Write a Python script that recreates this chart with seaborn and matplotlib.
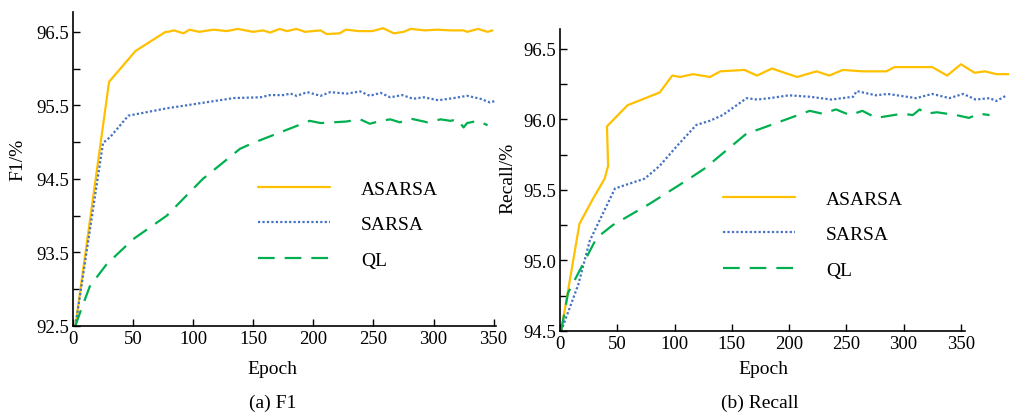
import numpy as np
import pandas as pd
import matplotlib
matplotlib.use("Agg")
import matplotlib.pyplot as plt
import seaborn as sns
from matplotlib.ticker import MultipleLocator, FormatStrFormatter

# ---------------- data: (a) F1 ----------------
f1_asarsa_ep = [2, 30, 52, 77, 79, 84, 92, 97, 105, 117, 128, 137, 150, 158, 164, 172, 178, 186, 193,
                206, 211, 222, 227, 238, 249, 258, 267, 275, 281, 293, 303, 314, 325, 328, 337, 345, 349]
f1_asarsa = [92.5, 95.82, 96.24, 96.50, 96.50, 96.52, 96.48, 96.53, 96.50, 96.53, 96.51, 96.54, 96.50,
             96.52, 96.49, 96.54, 96.51, 96.54, 96.50, 96.52, 96.47, 96.48, 96.53, 96.51, 96.51, 96.55,
             96.48, 96.50, 96.54, 96.52, 96.53, 96.52, 96.52, 96.50, 96.54, 96.50, 96.52]

f1_sarsa_ep = [2, 25, 31, 46, 78, 106, 134, 156, 164, 175, 181, 186, 195, 206, 214, 228, 239, 247,
               256, 264, 274, 283, 292, 304, 317, 328, 339, 347, 353]
f1_sarsa = [92.5, 94.99, 95.07, 95.36, 95.46, 95.53, 95.60, 95.61, 95.64, 95.64, 95.66, 95.63, 95.68,
            95.63, 95.68, 95.66, 95.69, 95.63, 95.67, 95.61, 95.64, 95.59, 95.61, 95.57, 95.60, 95.63,
            95.59, 95.54, 95.57]

f1_ql_ep = [2, 6, 14, 28, 50, 78, 108, 139, 150, 197, 206, 227, 239, 247, 256, 264, 272, 281, 295,
            306, 314, 320, 325, 328, 337, 345]
f1_ql = [92.5, 92.69, 93.04, 93.34, 93.68, 94.00, 94.50, 94.91, 94.99, 95.29, 95.26, 95.28, 95.31,
         95.25, 95.29, 95.31, 95.27, 95.32, 95.27, 95.31, 95.29, 95.31, 95.20, 95.26, 95.29, 95.23]

# ---------------- data: (b) Recall ----------------
rc_asarsa_ep = [1, 17, 29, 39, 42, 41, 59, 87, 98, 105, 116, 131, 140, 161, 172, 185, 207, 224, 235,
                247, 264, 285, 292, 325, 338, 350, 362, 371, 381, 392]
rc_asarsa = [94.5, 95.26, 95.44, 95.58, 95.67, 95.95, 96.10, 96.19, 96.31, 96.30, 96.32, 96.30, 96.34,
             96.35, 96.31, 96.36, 96.30, 96.34, 96.31, 96.35, 96.34, 96.34, 96.37, 96.37, 96.31, 96.39,
             96.33, 96.34, 96.32, 96.32]

rc_sarsa_ep = [1, 16, 26, 48, 74, 87, 102, 119, 131, 142, 163, 172, 183, 200, 218, 237, 256, 259, 276,
               286, 311, 325, 340, 352, 363, 375, 381, 390]
rc_sarsa = [94.5, 94.83, 95.14, 95.51, 95.58, 95.67, 95.81, 95.96, 95.99, 96.03, 96.15, 96.14, 96.15,
            96.17, 96.16, 96.14, 96.16, 96.20, 96.17, 96.18, 96.15, 96.18, 96.15, 96.18, 96.14, 96.15,
            96.13, 96.17]

rc_ql_ep = [1, 7, 32, 46, 78, 113, 126, 163, 174, 218, 229, 241, 253, 264, 276, 299, 308, 314, 320,
            329, 346, 357, 366, 375]
rc_ql = [94.5, 94.77, 95.16, 95.25, 95.40, 95.58, 95.65, 95.90, 95.93, 96.06, 96.04, 96.07, 96.03,
         96.06, 96.01, 96.04, 96.03, 96.07, 96.04, 96.05, 96.03, 96.01, 96.04, 96.03]

series_names = ["ASARSA", "SARSA", "QL"]
panel_ylabels = ["F1/%", "Recall/%"]
panel_captions = ["(a) F1", "(b) Recall"]
x_label = "Epoch"

# ---------------- style ----------------
sns.set_theme(style="ticks")
plt.rcParams["font.family"] = ["Liberation Serif", "DejaVu Serif"]
for k in ["text.color", "axes.labelcolor", "xtick.color", "ytick.color", "axes.edgecolor"]:
    plt.rcParams[k] = "black"

colors = {"ASARSA": "#FFC000", "SARSA": "#4472C4", "QL": "#00B050"}
styles = {"ASARSA": "-", "SARSA": (0, (1.0, 1.0)), "QL": (0, (7.5, 4.5))}

W, H = 1009, 414
fig = plt.figure(figsize=(W / 100, H / 100), dpi=100)


def ax_at(l, t, r, b):
    return fig.add_axes([l / W, 1 - b / H, (r - l) / W, (b - t) / H])


axL = ax_at(73, 13, 496, 327)
axR = ax_at(560, 30, 1009, 332)

panels = [
    (axL, [(f1_asarsa_ep, f1_asarsa), (f1_sarsa_ep, f1_sarsa), (f1_ql_ep, f1_ql)]),
    (axR, [(rc_asarsa_ep, rc_asarsa), (rc_sarsa_ep, rc_sarsa), (rc_ql_ep, rc_ql)]),
]

for ax, data in panels:
    for name, (ep, val) in zip(series_names, data):
        df = pd.DataFrame({"epoch": ep, "value": val})
        sns.lineplot(data=df, x="epoch", y="value", ax=ax, sort=False, estimator=None,
                     color=colors[name], linestyle=styles[name], linewidth=1.6, label=name)
    sns.despine(ax=ax)
    ax.set_xlabel("")
    ax.set_ylabel("")
    ax.tick_params(direction="in", length=5, width=1, labelsize=13.5, colors="black", pad=3)
    ax.tick_params(which="minor", direction="in", length=5, width=1, colors="black")
    for sp in ["left", "bottom"]:
        ax.spines[sp].set_linewidth(1.2)
        ax.spines[sp].set_color("black")
    ax.xaxis.set_major_locator(MultipleLocator(50))

# left panel
axL.set_xlim(0, 352)
axL.set_ylim(92.5, 96.77)
axL.set_yticks([92.5, 93.5, 94.5, 95.5, 96.5])
axL.yaxis.set_minor_locator(MultipleLocator(0.5))
axL.yaxis.set_major_formatter(FormatStrFormatter("%.1f"))

# right panel
axR.set_xlim(0, 392)
axR.set_ylim(94.5, 96.64)
axR.set_yticks([94.5, 95.0, 95.5, 96.0, 96.5])
axR.yaxis.set_minor_locator(MultipleLocator(0.25))
axR.yaxis.set_major_formatter(FormatStrFormatter("%.1f"))
axR.spines["bottom"].set_bounds(0, 354)
axR.set_xticks([0, 50, 100, 150, 200, 250, 300, 350])

# legends
for ax, (lx, ty) in [(axL, (258, 181)), (axR, (723, 191))]:
    fx, fy = lx / W, 1 - ty / H
    leg = ax.legend(loc="upper left", bbox_to_anchor=(fx, fy), bbox_transform=fig.transFigure,
                    frameon=False, fontsize=14, handlelength=3.7, handletextpad=1.6,
                    labelspacing=0.92, borderpad=0, borderaxespad=0)
    for t in leg.get_texts():
        t.set_color("black")

# labels
fig.text(272 / W, 1 - 370 / H, x_label, ha="center", va="center", fontsize=14)
fig.text(763 / W, 1 - 370 / H, x_label, ha="center", va="center", fontsize=14)
fig.text(273 / W, 1 - 403 / H, panel_captions[0], ha="center", va="center", fontsize=14)
fig.text(760 / W, 1 - 403 / H, panel_captions[1], ha="center", va="center", fontsize=14)
fig.text(18 / W, 1 - 160 / H, panel_ylabels[0], ha="center", va="center", rotation=90, fontsize=14)
fig.text(508 / W, 1 - 178 / H, panel_ylabels[1], ha="center", va="center", rotation=90, fontsize=14)

fig.savefig("out.png", dpi=100)
